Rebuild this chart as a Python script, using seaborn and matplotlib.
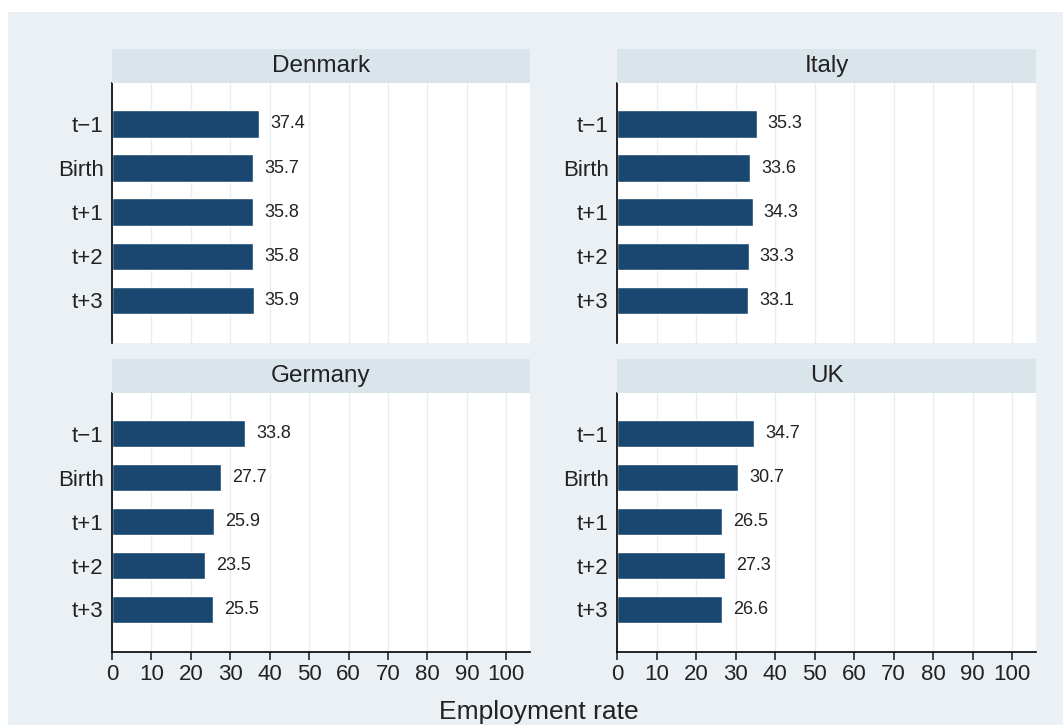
import pandas as pd
import seaborn as sns
import matplotlib.pyplot as plt
from matplotlib.patches import Rectangle

# data
periods = ["t\u22121", "Birth", "t+1", "t+2", "t+3"]
countries = ["Denmark", "Italy", "Germany", "UK"]
denmark = [37.4, 35.7, 35.8, 35.8, 35.9]
italy = [35.3, 33.6, 34.3, 33.3, 33.1]
germany = [33.8, 27.7, 25.9, 23.5, 25.5]
uk = [34.7, 30.7, 26.5, 27.3, 26.6]
xticks = [0, 10, 20, 30, 40, 50, 60, 70, 80, 90, 100]

values = {"Denmark": denmark, "Italy": italy, "Germany": germany, "UK": uk}

sns.set_style("white")
plt.rcParams['font.family'] = ['Liberation Sans', 'DejaVu Sans']

bar_col = "#1a476f"
bg_col = "#eaf0f3"
strip_col = "#d9e4eb"
grid_col = "#e8edf0"

W, H = 1063, 725
fig = plt.figure(figsize=(W / 100, H / 100), dpi=100)
fig.patch.set_facecolor("white")
fig.add_artist(Rectangle((8 / W, 0), 1, 1 - 12 / H, transform=fig.transFigure,
                         facecolor=bg_col, edgecolor="none", zorder=-10))

# panel boxes in pixels: (left, right, plot_top, plot_bottom, strip_top)
boxes = {
    "Denmark": (112, 530, 83, 343, 49),
    "Italy": (617, 1036, 83, 343, 49),
    "Germany": (112, 530, 393, 652, 359),
    "UK": (617, 1036, 393, 652, 359),
}

for name in countries:
    x0, x1, top, bot, stop = boxes[name]
    ax = fig.add_axes([x0 / W, 1 - bot / H, (x1 - x0) / W, (bot - top) / H])
    df = pd.DataFrame({"period": periods, "rate": values[name]})
    sns.barplot(data=df, x="rate", y="period", orient="h", color=bar_col,
                width=0.62, saturation=1, ax=ax)
    ax.set_facecolor("white")
    ax.set_xlim(0, 106)
    ax.set_ylim(4.97, -0.93)
    ax.set_xticks(xticks)
    ax.grid(axis="x", color=grid_col, linewidth=1)
    ax.set_axisbelow(True)
    for s in ["top", "right"]:
        ax.spines[s].set_visible(False)
    ax.spines["left"].set_color("black")
    ax.spines["left"].set_linewidth(1.2)
    ax.set_xlabel("")
    ax.set_ylabel("")
    ax.tick_params(axis="y", length=0, labelsize=16, pad=6, labelcolor="#222222")
    if bot > 600:
        ax.spines["bottom"].set_color("black")
        ax.spines["bottom"].set_linewidth(1.2)
        ax.tick_params(axis="x", bottom=True, length=6, width=1.2, direction="out",
                       labelsize=16, pad=3, labelcolor="#222222")
    else:
        ax.spines["bottom"].set_visible(False)
        ax.tick_params(axis="x", bottom=False, labelbottom=False)
    for bar, v in zip(ax.patches, values[name]):
        ax.annotate(f"{v:.1f}", (bar.get_width(), bar.get_y() + bar.get_height() / 2),
                    xytext=(8, 0), textcoords="offset points", va="center",
                    ha="left", fontsize=13, color="#222222")

    # strip header
    sax = fig.add_axes([x0 / W, 1 - top / H, (x1 - x0) / W, (top - stop) / H])
    sax.set_facecolor(strip_col)
    sax.set_xticks([])
    sax.set_yticks([])
    for s in sax.spines.values():
        s.set_visible(False)
    sax.text(0.5, 0.5, name, ha="center", va="center", fontsize=17.5,
             color="#222222", transform=sax.transAxes)

fig.text(539 / W, 1 - 712 / H, "Employment rate", ha="center", va="center",
         fontsize=19, color="#222222")

plt.savefig("out.png", dpi=100, facecolor=fig.get_facecolor())
